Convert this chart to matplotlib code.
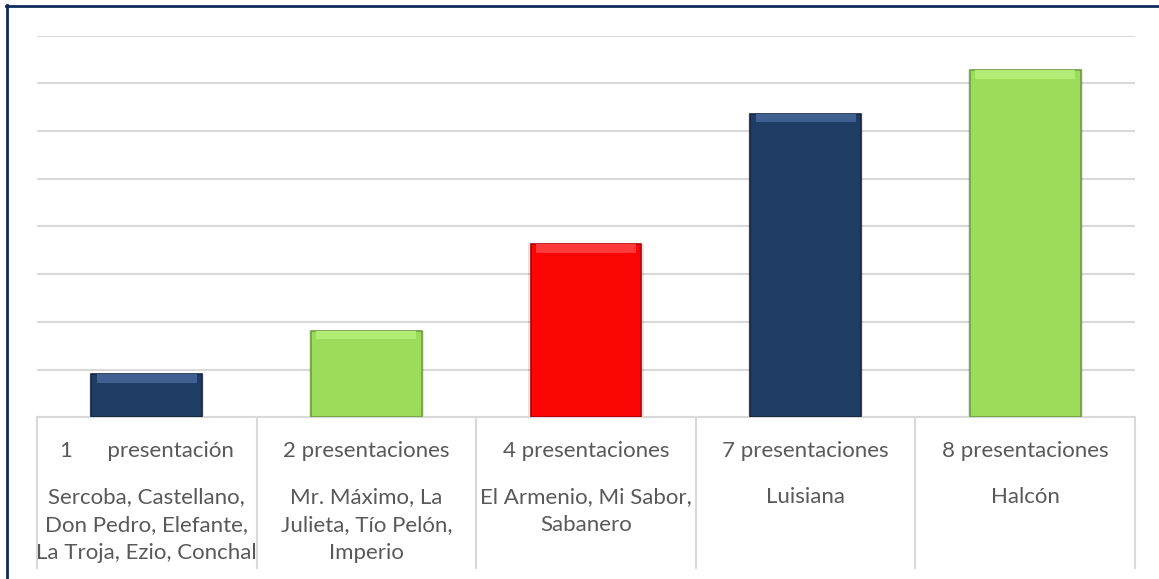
import numpy as np
import matplotlib.pyplot as plt
from matplotlib.lines import Line2D

# datos
categorias = ["1      presentación", "2 presentaciones", "4 presentaciones",
              "7 presentaciones", "8 presentaciones"]
marcas = ["Sercoba, Castellano,\nDon Pedro, Elefante,\nLa Troja, Ezio, Conchal",
          "Mr. Máximo, La\nJulieta, Tío Pelón,\nImperio",
          "El Armenio, Mi Sabor,\nSabanero",
          "Luisiana",
          "Halcón"]
valores = [1, 2, 4, 7, 8]

colores = ["#1F3C64", "#9CDC5A", "#FB0505", "#1F3C64", "#9CDC5A"]
brillo = ["#3F6091", "#B3EC74", "#FF3A3A", "#3F6091", "#B3EC74"]
bordes = ["#13263F", "#6F9C3D", "#B00000", "#13263F", "#6F9C3D"]

W, H = 1159, 579
fig = plt.figure(figsize=(W / 100, H / 100), dpi=100)
ax = fig.add_axes([37 / W, 1 - 417.3 / H, (1135 - 37) / W, (417.3 - 35.7) / H])

x = np.arange(len(valores))
ancho = 0.505

# sombra, barra, bisel superior
ax.bar(x, valores, width=ancho * 1.04, color="#000000", alpha=0.10, zorder=2)
ax.bar(x, valores, width=ancho, color=colores, edgecolor=bordes, linewidth=1.2, zorder=3)
bisel = 0.2
ax.bar(x, [bisel] * len(valores), bottom=[v - bisel for v in valores],
       width=ancho * 0.9, color=brillo, linewidth=0, zorder=4)

ax.set_xlim(-0.5, len(valores) - 0.5)
ax.set_ylim(0, 8.8)
ax.set_yticks(np.arange(0, 8.81, 1.1))
ax.set_yticklabels([])
ax.set_xticks([])
ax.tick_params(left=False)
ax.yaxis.grid(True, color="#D9D9D9", linewidth=1.5, zorder=0)
ax.set_axisbelow(True)
for s in ["top", "right", "left"]:
    ax.spines[s].set_visible(False)
ax.spines["bottom"].set_color("#D9D9D9")
ax.spines["bottom"].set_linewidth(1.5)

# tabla de etiquetas bajo el eje
tr = ax.get_xaxis_transform()
for b in np.arange(-0.5, len(valores), 1.0):
    ax.plot([b, b], [0, -0.396], color="#D9D9D9", lw=1.5, transform=tr, clip_on=False)

fuente = ["Lato", "DejaVu Sans"]
for i in range(len(valores)):
    ax.text(i, -0.088, categorias[i], transform=tr, ha="center", va="center",
            fontsize=16, color="#595959", family=fuente)
    ax.text(i, -0.182, marcas[i], transform=tr, ha="center", va="top",
            fontsize=16, color="#595959", family=fuente, linespacing=1.5)

# marco
fig.add_artist(Line2D([6 / W, 1], [1 - 6 / H, 1 - 6 / H], color="#0F2A5C", lw=2, transform=fig.transFigure))
fig.add_artist(Line2D([7 / W, 7 / W], [0, 1 - 5 / H], color="#0F2A5C", lw=2, transform=fig.transFigure))

fig.savefig("out.png", dpi=100)
